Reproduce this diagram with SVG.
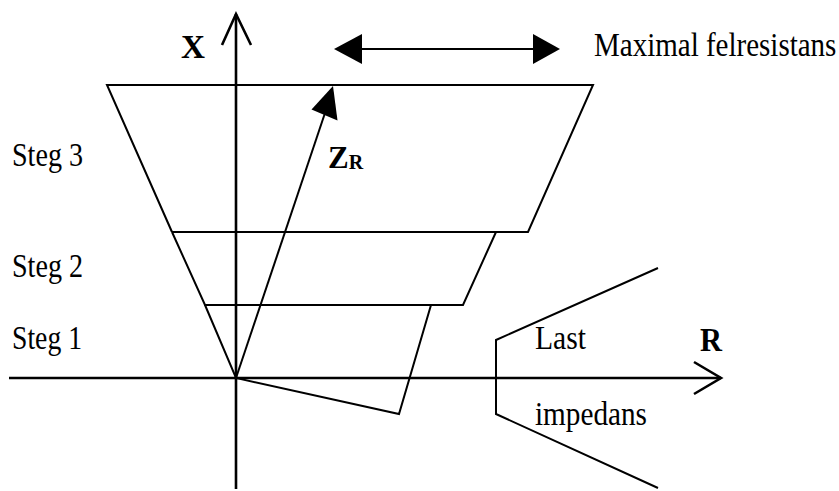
<svg xmlns="http://www.w3.org/2000/svg" width="839" height="491" viewBox="0 0 839 491">
<style>
.ln{stroke:#000;stroke-width:2;fill:none;stroke-linejoin:miter}
.ax{stroke:#000;stroke-width:2.6;fill:none}
.t{font-family:"Liberation Serif","Times New Roman",serif;font-size:33px;fill:#000}
.b{font-family:"Liberation Serif","Times New Roman",serif;font-weight:bold;fill:#000}
.hd{fill:#000;stroke:none}
</style>
<rect width="839" height="491" fill="#fff"/>
<g id="axes">
<line class="ax" x1="236" y1="14" x2="236" y2="489"/>
<polyline class="ax" points="222,45 236,14 251,45"/>
<line class="ax" x1="9" y1="378" x2="721" y2="378"/>
<polyline class="ax" points="694,362 721,378 694,394"/>
</g>
<g id="steg3">
<polyline class="ln" points="172,232 107,85 593,85 528,232 172,232"/>
</g>
<g id="steg2">
<polyline class="ln" points="172,232 205,305 463,305 496,232"/>
</g>
<g id="steg1">
<polyline class="ln" points="205,305 236,378 399,414 431,305"/>
</g>
<g id="load">
<polyline class="ln" points="658,268 496,340 496,414 658,488"/>
</g>
<g id="connectors">
<line class="ln" x1="236" y1="378" x2="326" y2="110"/>
<polygon class="hd" points="333,86 311.5,109.5 337.5,120.5"/>
<line class="ln" x1="360" y1="49" x2="535" y2="49"/>
<polygon class="hd" points="334,49 362,34 362,64"/>
<polygon class="hd" points="560,49 533,34 533,64"/>
</g>
<g id="labels">
<text class="b" x="181" y="58" font-size="33" textLength="24" lengthAdjust="spacingAndGlyphs">X</text>
<text class="t" transform="translate(594,56) scale(1,1.13)" style="font-size:29px">Maximal felresistans</text>
<text class="t" x="12" y="166" textLength="71" lengthAdjust="spacingAndGlyphs">Steg 3</text>
<text class="t" x="12" y="277" textLength="71" lengthAdjust="spacingAndGlyphs">Steg 2</text>
<text class="t" x="12" y="349" textLength="70" lengthAdjust="spacingAndGlyphs">Steg 1</text>
<text class="b" x="328" y="168" font-size="31">Z<tspan font-size="20" dy="1">R</tspan></text>
<text class="t" x="535" y="349" textLength="51" lengthAdjust="spacingAndGlyphs">Last</text>
<text class="t" x="535" y="425" textLength="112" lengthAdjust="spacingAndGlyphs">impedans</text>
<text class="b" x="700" y="351" font-size="33" textLength="22" lengthAdjust="spacingAndGlyphs">R</text>
</g>
</svg>
